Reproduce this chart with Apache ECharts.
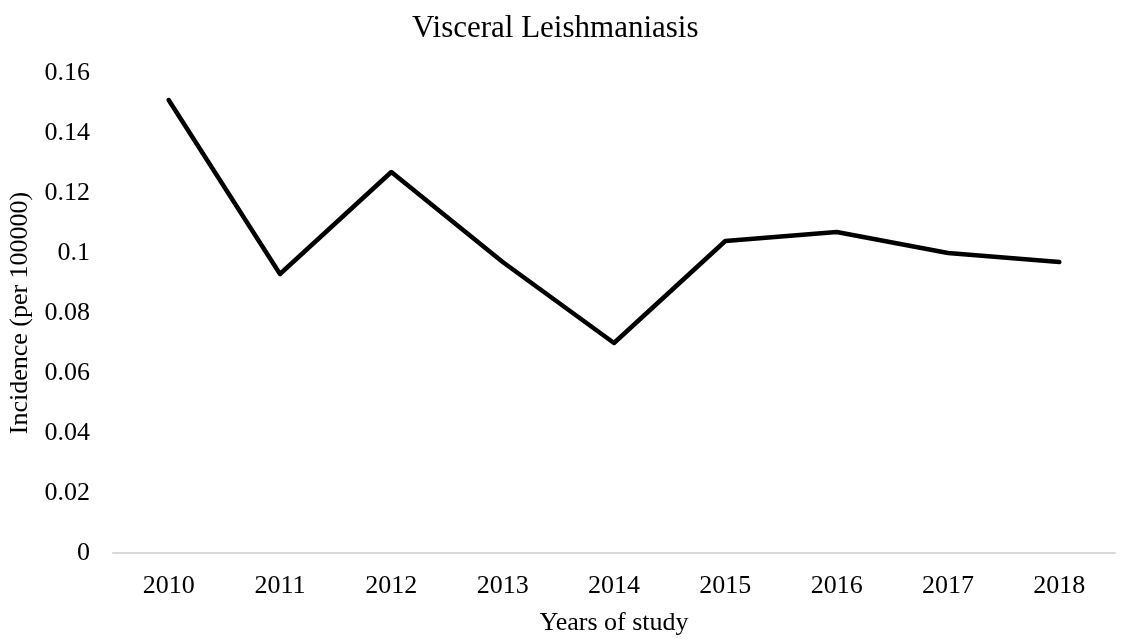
<!DOCTYPE html>
<html>
<head>
<meta charset="utf-8">
<script src="https://cdn.jsdelivr.net/npm/echarts@6/dist/echarts.min.js"></script>
<style>
html,body{margin:0;padding:0;background:#fff;}
#chart{width:1121px;height:641px;}
</style>
</head>
<body>
<div id="chart"></div>
<script>
var years = ['2010','2011','2012','2013','2014','2015','2016','2017','2018'];
var incidence = [0.151, 0.093, 0.127, 0.097, 0.070, 0.104, 0.107, 0.100, 0.097];
var titleText = 'Visceral Leishmaniasis';
var yAxisName = 'Incidence (per 100000)';
var xAxisName = 'Years of study';

var FONT = '"Liberation Serif", "Times New Roman", serif';
var chart = echarts.init(document.getElementById('chart'), null, {renderer:'canvas'});
chart.setOption({
  backgroundColor: '#ffffff',
  animation: false,
  title: {
    text: titleText,
    left: 407,
    top: 8,
    textStyle: {fontFamily: FONT, fontSize: 31, fontWeight: 'normal', color: '#000'}
  },
  grid: {left: 113, right: 6, top: 73, bottom: 88, containLabel: false, outerBoundsMode: 'none'},
  xAxis: {
    type: 'category',
    data: years,
    boundaryGap: true,
    name: xAxisName,
    nameLocation: 'middle',
    nameGap: 57,
    nameTextStyle: {fontFamily: FONT, fontSize: 26, color: '#000'},
    axisLine: {show: true, lineStyle: {color: '#d9d9d9', width: 2}},
    axisTick: {show: false},
    axisLabel: {fontFamily: FONT, fontSize: 26, color: '#000', margin: 20}
  },
  yAxis: {
    type: 'value',
    min: 0,
    max: 0.16,
    interval: 0.02,
    name: yAxisName,
    nameLocation: 'middle',
    nameGap: 77,
    nameTextStyle: {fontFamily: FONT, fontSize: 26, color: '#000'},
    axisLine: {show: false},
    axisTick: {show: false},
    splitLine: {show: false},
    axisLabel: {
      fontFamily: FONT, fontSize: 26, color: '#000', margin: 23,
      formatter: function (v) { return String(parseFloat(v.toFixed(2))); }
    }
  },
  series: [{
    type: 'line',
    data: incidence,
    symbol: 'none',
    lineStyle: {color: '#000', width: 4.5, cap: 'round', join: 'round'}
  }]
});
</script>
</body>
</html>
